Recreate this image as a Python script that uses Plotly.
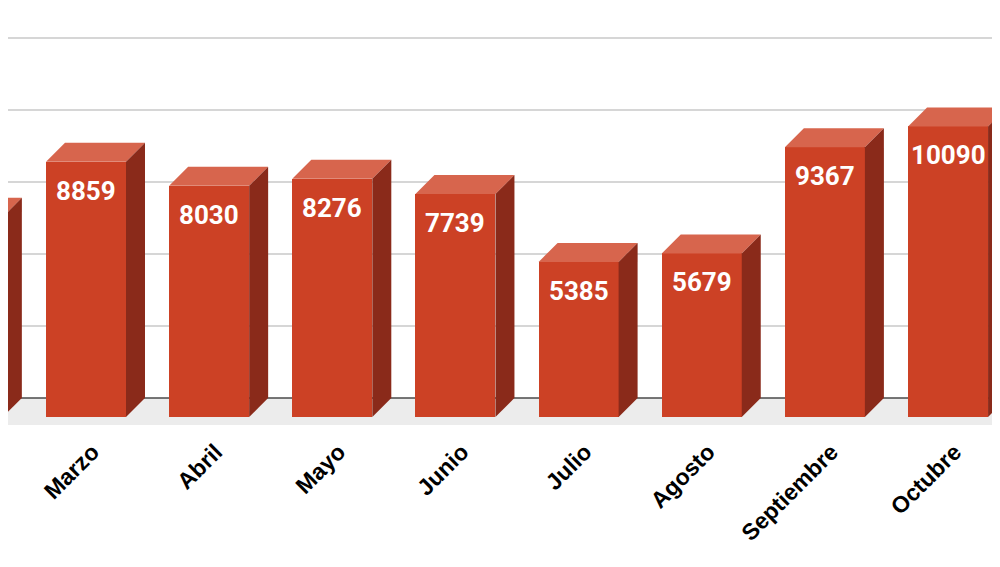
import plotly.graph_objects as go

# monthly values (Febrero .. Noviembre); Noviembre falls outside the visible crop
meses = ["Febrero", "Marzo", "Abril", "Mayo", "Junio", "Julio",
         "Agosto", "Septiembre", "Octubre", "Noviembre"]
valores = [6950, 8859, 8030, 8276, 7739, 5385, 5679, 9367, 10090, None]
grid_vals = [2500, 5000, 7500, 10000, 12500]

# page body has an 8px margin
W, H = 992, 551

# 3D look: front faces are pushed down/left from the back plane
px_per_x = 123.15
px_per_y = 72 / 2500
bar_w = 80 / px_per_x
dx = 19 / px_per_x
dy = 19 / px_per_y

FRONT = "#cc4125"
TOP = "#d7654d"
SIDE = "#8a2a1a"

pos = list(range(len(meses)))
fig = go.Figure()

fig.add_trace(go.Bar(
    x=pos, y=valores, base=-dy, width=bar_w,
    marker=dict(color=FRONT, line=dict(width=0)),
    hoverinfo="skip", showlegend=False,
))

for i, v in zip(pos, valores):
    if v is None:
        continue
    l, r = i - bar_w / 2, i + bar_w / 2
    # top face
    fig.add_trace(go.Scatter(
        x=[l, r, r + dx, l + dx, l], y=[v - dy, v - dy, v, v, v - dy],
        fill="toself", fillcolor=TOP, mode="lines", line=dict(width=0),
        hoverinfo="skip", showlegend=False,
    ))
    # side face
    fig.add_trace(go.Scatter(
        x=[r, r, r + dx, r + dx, r], y=[-dy, v - dy, v, 0, -dy],
        fill="toself", fillcolor=SIDE, mode="lines", line=dict(width=0),
        hoverinfo="skip", showlegend=False,
    ))
    fig.add_annotation(
        x=i, y=v - dy, text=f"<b>{v}</b>", showarrow=False,
        yanchor="top", yshift=-12,
        font=dict(family="Roboto", size=26, color="white"),
    )

# floor and baseline
fig.add_shape(type="rect", xref="paper", x0=0, x1=1, y0=-937.5, y1=0,
              fillcolor="#ececec", line=dict(width=0), layer="below")
fig.add_shape(type="line", xref="paper", x0=0, x1=1, y0=0, y1=0,
              line=dict(color="#4a4a4a", width=1.5), layer="below")

x0 = 45.15 / px_per_x
fig.update_xaxes(
    range=[x0, x0 + W / px_per_x],
    tickmode="array", tickvals=[p + dx / 2 for p in pos], ticktext=meses,
    tickangle=-45, showgrid=False, zeroline=False, showline=False,
    tickfont=dict(family="Liberation Sans", size=23, color="black", weight="bold"),
    ticklabelstandoff=8, ticklabelshift=-3,
)
fig.update_yaxes(
    range=[-937.5, 390 / px_per_y],
    tickmode="array", tickvals=grid_vals, showticklabels=False,
    showgrid=True, gridcolor="#d6d6d6", gridwidth=1.5, zeroline=False,
)
fig.update_layout(
    width=W, height=H,
    margin=dict(l=0, r=0, t=0, b=H - 417),
    plot_bgcolor="white", paper_bgcolor="white",
    bargap=0, showlegend=False,
)

fig.write_html("out.html")
